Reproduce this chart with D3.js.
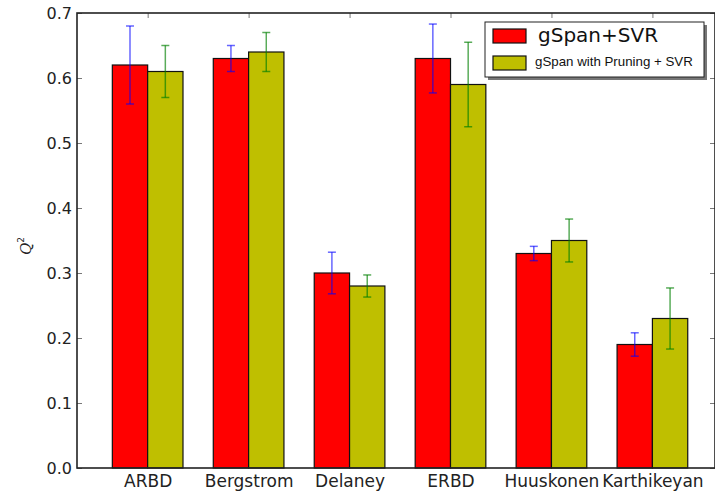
<!DOCTYPE html>
<html>
<head>
<meta charset="utf-8">
<script src="https://cdn.jsdelivr.net/npm/d3@7/dist/d3.min.js"></script>
<style>
  body { margin: 0; background: #fff; }
  svg { display: block; font-family: "DejaVu Sans", sans-serif; }
</style>
</head>
<body>
<svg id="chart" width="715" height="497"></svg>
<script>
// data
const datasets = ["ARBD", "Bergstrom", "Delaney", "ERBD", "Huuskonen", "Karthikeyan"];
const svrValues = [0.62, 0.63, 0.30, 0.63, 0.33, 0.19];
const svrErrors = [0.06, 0.02, 0.032, 0.053, 0.011, 0.018];
const pruneValues = [0.61, 0.64, 0.28, 0.59, 0.35, 0.23];
const pruneErrors = [0.04, 0.03, 0.017, 0.065, 0.033, 0.047];
const yTicks = [0, 0.1, 0.2, 0.3, 0.4, 0.5, 0.6, 0.7];
const seriesNames = ["gSpan+SVR", "gSpan with Pruning + SVR"];

const BAR_W = 0.35;
const svg = d3.select("#chart");

const x = d3.scaleLinear().domain([-0.35, 5.97]).range([77, 715]);
const y = d3.scaleLinear().domain([0, 0.7]).range([468, 13]);

const centers = datasets.map((d, i) => i + BAR_W);

// series table
const series = [
    {name: seriesNames[0], values: svrValues, errors: svrErrors, offset: 0, fill: "#ff0000", err: "rgba(0,0,255,0.6)"},
    {name: seriesNames[1], values: pruneValues, errors: pruneErrors, offset: BAR_W, fill: "#bfbf00", err: "rgba(0,128,0,0.65)"}
];

// ticks (inward, matplotlib style)
const fmt = d3.format(".1f");
const axisL = svg.append("g").attr("transform", "translate(" + x.range()[0] + ",0)")
    .call(d3.axisLeft(y).tickValues(yTicks).tickFormat(fmt).tickSizeInner(-5).tickSizeOuter(0).tickPadding(5));
const axisR = svg.append("g").attr("transform", "translate(" + x.range()[1] + ",0)")
    .call(d3.axisRight(y).tickValues(yTicks).tickFormat("").tickSizeInner(-5).tickSizeOuter(0));
const axisT = svg.append("g").attr("transform", "translate(0," + y.range()[1] + ")")
    .call(d3.axisTop(x).tickValues(centers).tickFormat("").tickSizeInner(-5).tickSizeOuter(0));
const axisB = svg.append("g").attr("transform", "translate(0," + y.range()[0] + ")")
    .call(d3.axisBottom(x).tickValues(centers).tickFormat((d, i) => datasets[i]).tickSizeInner(-5).tickSizeOuter(0).tickPadding(5));

[axisL, axisR, axisT, axisB].forEach(g => {
    g.select(".domain").remove();
    g.selectAll("line").attr("stroke", "#555").attr("stroke-width", 0.8);
    g.selectAll("text").attr("fill", "#222").style("font-size", "16px").style("font-family", "DejaVu Sans");
});
axisB.selectAll("text").attr("dy", "0.8em").style("font-size", "17px");

// bars
series.forEach(s => {
    svg.append("g").selectAll("rect")
        .data(s.values)
        .enter().append("rect")
        .attr("x", (d, i) => x(i + s.offset))
        .attr("y", d => y(d))
        .attr("width", x(BAR_W) - x(0))
        .attr("height", d => y(0) - y(d))
        .attr("fill", s.fill)
        .attr("stroke", "#111")
        .attr("stroke-width", 1.2);
});

// error bars
series.forEach(s => {
    const g = svg.append("g").attr("stroke", s.err).attr("stroke-width", 1.5).attr("fill", "none");
    s.values.forEach((v, i) => {
        const cx = x(i + s.offset + BAR_W / 2);
        const lo = y(v - s.errors[i]);
        const hi = y(v + s.errors[i]);
        g.append("line").attr("x1", cx).attr("x2", cx).attr("y1", lo).attr("y2", hi);
        g.append("line").attr("x1", cx - 4).attr("x2", cx + 4).attr("y1", lo).attr("y2", lo);
        g.append("line").attr("x1", cx - 4).attr("x2", cx + 4).attr("y1", hi).attr("y2", hi);
    });
});

// frame
svg.append("rect")
    .attr("x", x.range()[0]).attr("y", y.range()[1])
    .attr("width", x.range()[1] - x.range()[0])
    .attr("height", y.range()[0] - y.range()[1])
    .attr("fill", "none").attr("stroke", "#222").attr("stroke-width", 1.6);

// y label Q^2
const ylab = svg.append("text")
    .attr("transform", "translate(31,246) rotate(-90)")
    .attr("text-anchor", "middle")
    .style("font-family", "DejaVu Serif")
    .style("font-style", "italic")
    .style("font-size", "15px")
    .attr("fill", "#222");
ylab.append("tspan").text("Q");
ylab.append("tspan").attr("dy", -7).style("font-size", "9px").style("font-style", "normal").style("font-family", "DejaVu Sans").text("2");

// legend
const legend = svg.append("g");
legend.append("rect").attr("x", 488).attr("y", 25).attr("width", 219).attr("height", 55).attr("fill", "#777");
legend.append("rect").attr("x", 485).attr("y", 22).attr("width", 219).attr("height", 55)
    .attr("fill", "#fff").attr("stroke", "#222").attr("stroke-width", 1);
series.forEach((s, i) => {
    legend.append("rect")
        .attr("x", 493).attr("y", 29 + i * 27).attr("width", 33).attr("height", 14)
        .attr("fill", s.fill).attr("stroke", "#111").attr("stroke-width", 1.2);
});
legend.append("text").attr("x", 538).attr("y", 42)
    .style("font-size", "20px").style("font-family", "DejaVu Sans").attr("fill", "#111")
    .text(seriesNames[0]);
legend.append("text").attr("x", 535).attr("y", 66)
    .style("font-size", "13.3px").style("font-family", "Liberation Sans").attr("fill", "#111")
    .text(seriesNames[1]);
</script>
</body>
</html>
